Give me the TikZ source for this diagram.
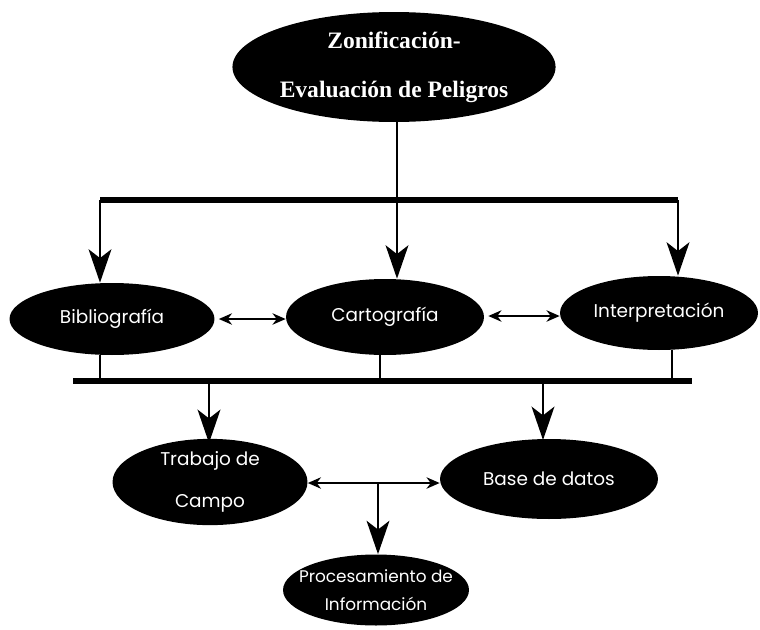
\documentclass[tikz,border=0pt]{standalone}
\usepackage{fontspec}
\newfontfamily\gothic{Poppins}
\newfontfamily\school{Liberation Serif}
\usetikzlibrary{positioning,arrows.meta,shapes.geometric}

\tikzset{
  blob/.style={ellipse, fill=black, text=white, inner sep=0pt, align=center},
  bar/.style={line width=3.4pt},
  link/.style={line width=1.1pt},
  bigarr/.style={link, -{Stealth[length=19pt, width=13pt, inset=5pt]}},
  twoarr/.style={link, {Stealth[length=7.5pt, width=6.5pt]}-{Stealth[length=7.5pt, width=6.5pt]}},
}

\begin{document}
\begin{tikzpicture}[x=0.02cm, y=-0.02cm]

\useasboundingbox (0,0) rectangle (760,629);

% nodos
\node[blob, minimum width=6.46cm, minimum height=2.2cm, font=\school\bfseries\fontsize{13.4}{28}\selectfont] (zon) at (394,67) {Zonificación-\\Evaluación de Peligros};

\node[blob, minimum width=4.1cm, minimum height=1.44cm, font=\gothic\fontsize{10.5}{12}\selectfont] (biblio) at (112,319) {Bibliografía};
\node[blob, minimum width=3.96cm, minimum height=1.52cm, font=\gothic\fontsize{10.5}{12}\selectfont] (carto) at (385,317) {Cartografía};
\node[blob, minimum width=3.96cm, minimum height=1.48cm, font=\gothic\fontsize{10.5}{12}\selectfont] (inter) at (659,313) {Interpretación};

\node[blob, minimum width=3.9cm, minimum height=1.6cm, font=\gothic\fontsize{10.5}{24}\selectfont] (campo) at (210,482) {Trabajo de\\Campo};
\node[blob, minimum width=4.36cm, minimum height=1.6cm, font=\gothic\fontsize{10.5}{12}\selectfont] (base) at (549,479) {Base de datos};
\node[blob, inner sep=-20pt, minimum width=3.72cm, minimum height=1.42cm, font=\gothic\fontsize{9.6}{16}\selectfont] (proc) at (376,590) {Procesamiento de\\Información};

% barras
\coordinate (topL) at (100,200);
\coordinate (topR) at (678,200);
\coordinate (topM) at (397,200);
\coordinate (lowL) at (73,381);
\coordinate (lowR) at (692,381);
\coordinate (mid) at (378,483);

\draw[bar] (topL) -- (topR);
\draw[bar] (lowL) -- (lowR);

% flechas de arriba
\draw[link] (zon.south -| topM) -- (topM);
\draw[bigarr] (topM) -- (topM |- carto.north);
\draw[bigarr] (topL) -- (topL |- biblio.north);
\draw[bigarr] (topR) -- (topR |- inter.north);

\draw[twoarr] (biblio.east) ++(4,0) coordinate (b1) -- (b1 -| carto.west);
\draw[twoarr] (carto.east) ++(4,-1) coordinate (c1) -- (c1 -| inter.west);

% bajadas a la barra
\draw[link] (biblio.south -| 100,0) -- (100,381);
\draw[link] (carto.south -| 380,0) -- (380,381);
\draw[link] (inter.south -| 672,0) -- (672,381);

\draw[bigarr] (209,381) -- (209,443);
\draw[bigarr] (543,381) -- (543,440);

% abajo
\draw[twoarr] (mid -| campo.east) -- (mid -| base.west);
\draw[bigarr] (mid) -- (mid |- proc.north);

\end{tikzpicture}
\end{document}
